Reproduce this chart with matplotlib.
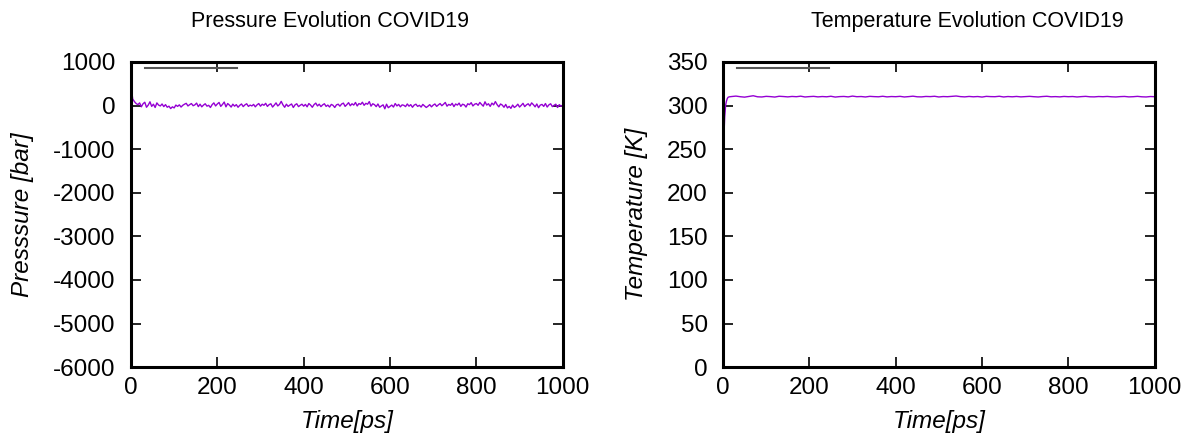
import matplotlib.pyplot as plt
from matplotlib.lines import Line2D

plt.rcParams['font.family'] = ['Liberation Sans', 'DejaVu Sans']
plt.rcParams['axes.unicode_minus'] = False

# Pressure series (bar): first few frames, then every 4 ps
pressure_time = [0, 1, 2, 3] + list(range(4, 1001, 4))
pressure = [-2100, -600, 310, 220,
    150, 90, 45, 20, 60, -30, 40, 75, -40, 10,
    85, -20, 30, -45, 60, 10, -10, 35, -25, 20,
    -40, -15, -70, -30, -55, 10, -20, 15, -35, 5,
    30, 50, -10, 20, 45, -5, 15, 55, -25, 30,
    -30, 10, 40, -15, 5, -45, 20, 60, -10, 35,
    70, -20, 25, 80, -30, 45, 10, -35, 30, -15,
    20, -40, 5, 35, -25, 15, 40, -20, 10, -10,
    25, -30, 15, 45, -15, 30, 5, 50, -20, 20,
    40, -35, 10, 60, -10, 25, 95, 15, -40, 30,
    -20, 10, 35, -45, 15, 40, -25, 5, 30, -15,
    25, -30, 45, 10, -40, 20, 55, -10, 30, -25,
    15, 40, -20, 10, -35, 25, 5, -45, 15, 30,
    -15, 35, 55, -20, 20, 65, -5, 40, 10, 70,
    -10, 45, 25, 75, 5, 50, 30, 90, -15, 40,
    20, -25, 35, -40, -10, 15, -75, 30, -50, -20,
    10, -35, 45, -10, 25, -30, 15, 5, -25, 35,
    -15, 20, -40, 10, 30, -20, 5, -35, 25, -10,
    -45, -15, 20, -30, 10, 35, -20, 15, 45, -5,
    30, 70, -15, 25, 5, 50, -25, 35, 10, 55,
    -20, 30, 15, -35, 40, 20, 65, -10, 30, 45,
    5, 70, 25, -15, 85, 10, 40, -20, 55, 15,
    90, 20, -30, 35, 10, -40, 25, -55, -20, -65,
    10, -45, -15, 30, -35, 5, 50, -25, 15, 40,
    -10, 60, 20, -30, 35, -50, 10, 25, -20, 45,
    -35, 15, 40, -25, 5, 30, -45, 20, -15, 10]

# Temperature series (K): ramp-up, then every 10 ps
temp_time = [0, 1, 2, 3, 4, 5, 6, 8, 10, 12, 15, 20] + list(range(30, 1001, 10))
temperature = [20, 180, 250, 275, 287, 293, 300, 305, 308, 309.5, 310, 310.3,
    310.8, 310.1, 309.6, 310.4, 311.2, 310.0, 309.8, 310.5, 310.2, 309.7,
    310.6, 310.3, 309.9, 310.4, 310.1, 310.7, 309.8, 310.2, 310.5, 309.9,
    310.3, 310.0, 310.6, 309.7, 310.2, 310.4, 309.9, 310.8, 310.1, 310.3,
    309.8, 310.5, 310.2, 310.0, 310.6, 309.9, 310.3, 310.1, 310.5, 309.8,
    310.2, 310.7, 310.0, 309.9, 310.4, 310.2, 310.6, 309.8, 310.3, 310.1,
    310.5, 310.9, 310.2, 309.9, 310.4, 310.0, 310.3, 309.7, 310.5, 310.2,
    310.1, 310.6, 309.8, 310.3, 310.0, 310.4, 309.9, 310.2, 310.5, 310.1,
    309.8, 310.3, 310.6, 310.0, 310.2, 309.9, 310.4, 310.1, 310.3, 309.8,
    310.2, 310.5, 310.0, 309.9, 310.3, 310.1, 310.4, 310.0, 309.8, 310.2,
    310.4, 309.9, 310.1, 310.5, 310.0, 309.8, 310.3, 310.1]

purple = '#9400D3'
fs = 17.5

fig = plt.figure(figsize=(11.96, 4.36), dpi=100)
ax1 = fig.add_axes([0.1095, 0.158, 0.361, 0.700])
ax2 = fig.add_axes([0.6045, 0.158, 0.361, 0.700])

def style(ax):
    for s in ax.spines.values():
        s.set_linewidth(2.2)
    ax.tick_params(direction='in', top=True, right=True, length=7, width=1.2,
                   labelsize=fs)
    ax.tick_params(axis='y', pad=11)
    ax.tick_params(axis='x', pad=7)
    ax.set_xlim(0, 1000)
    ax.set_xticks([0, 200, 400, 600, 800, 1000])
    ax.set_xlabel('Time[ps]', fontsize=fs, style='italic', labelpad=8)
    # empty key entry, as in the original gnuplot output
    key = Line2D([], [], color='#555555', lw=1.5)
    ax.legend([key], [''], loc='upper left', frameon=False, handlelength=3.8,
              borderpad=0, borderaxespad=0, handletextpad=0,
              fontsize=fs, bbox_to_anchor=(0.032, 1.007))

ax1.plot(pressure_time, pressure, color=purple, lw=1)
ax1.set_ylim(-6000, 1000)
ax1.set_yticks(range(-6000, 1001, 1000))
ax1.set_ylabel('Presssure [bar]', fontsize=fs, style='italic', labelpad=14)
ax1.set_title('Pressure Evolution COVID19', fontsize=15.5, pad=25, x=0.462)
style(ax1)

ax2.plot(temp_time, temperature, color=purple, lw=1)
ax2.set_ylim(0, 350)
ax2.set_yticks(range(0, 351, 50))
ax2.set_ylabel('Temperature [K]', fontsize=fs, style='italic', labelpad=14)
ax2.set_title('Temperature Evolution COVID19', fontsize=15.5, pad=25, x=0.565)
style(ax2)

fig.savefig('out.png', dpi=100)
